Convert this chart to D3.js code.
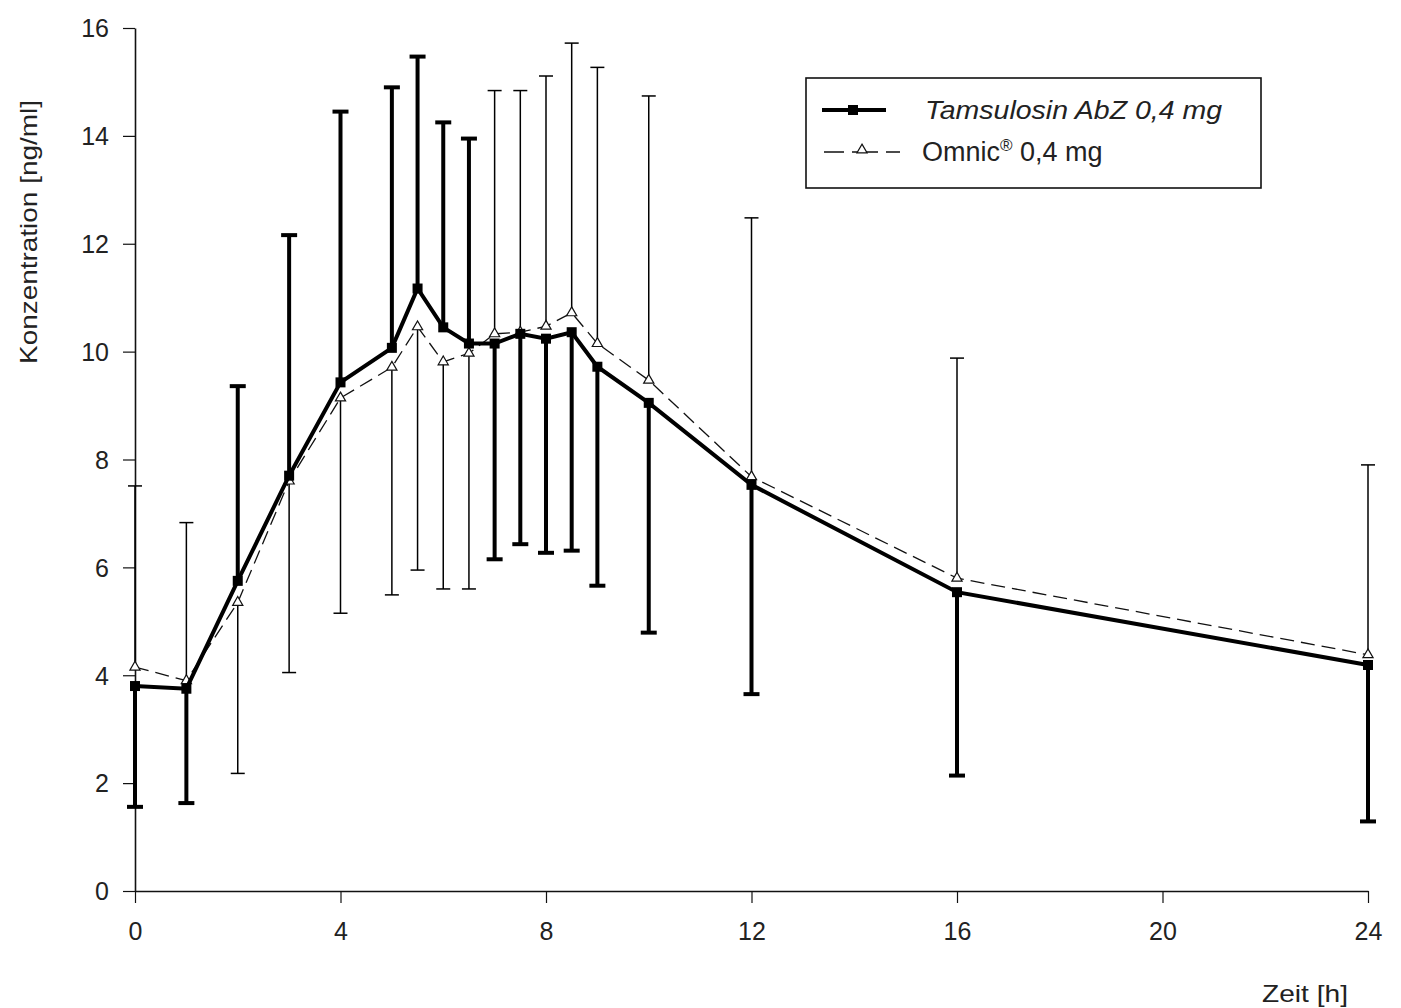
<!DOCTYPE html>
<html>
<head>
<meta charset="utf-8">
<script src="https://cdn.jsdelivr.net/npm/d3@7"></script>
<style>
  body { margin: 0; background: #fff; }
  svg text { font-family: "Liberation Sans", Arial, sans-serif; fill: #222; }
</style>
</head>
<body>
<div id="chart"></div>
<script>
// time points [h]
const times = [0, 1, 2, 3, 4, 5, 5.5, 6, 6.5, 7, 7.5, 8, 8.5, 9, 10, 12, 16, 24];

// Tamsulosin AbZ 0,4 mg: means and end of the error bar
const tamsMean = [3.80, 3.75, 5.75, 7.70, 9.43, 10.07, 11.17, 10.45, 10.15, 10.15, 10.33, 10.24, 10.36, 9.72, 9.05, 7.53, 5.54, 4.19];
const tamsBar  = [1.56, 1.63, 9.36, 12.16, 14.45, 14.90, 15.47, 14.25, 13.95, 6.15, 6.43, 6.27, 6.31, 5.66, 4.79, 3.65, 2.14, 1.29];

// Omnic 0,4 mg: means and end of the error bar
const omnicMean = [4.15, 3.90, 5.35, 7.60, 9.14, 9.71, 10.46, 9.81, 9.97, 10.33, 10.36, 10.47, 10.72, 10.15, 9.47, 7.68, 5.80, 4.38];
const omnicBar  = [7.51, 6.83, 2.18, 4.05, 5.15, 5.49, 5.95, 5.60, 5.60, 14.84, 14.84, 15.11, 15.72, 15.27, 14.74, 12.48, 9.88, 7.90];

const xTicks = [0, 4, 8, 12, 16, 20, 24];
const yTicks = [0, 2, 4, 6, 8, 10, 12, 14, 16];

const width = 1401, height = 1008;
const svg = d3.select('#chart').append('svg')
    .attr('width', width)
    .attr('height', height);

const x = d3.scaleLinear().domain([0, 24]).range([135, 1368]);
const y = d3.scaleLinear().domain([0, 16]).range([891, 28]);

// axes
const xAxis = svg.append('g')
    .attr('transform', `translate(0, ${y(0)})`)
    .call(d3.axisBottom(x).tickValues(xTicks).tickSize(12).tickPadding(22).tickSizeOuter(0));
const yAxis = svg.append('g')
    .attr('transform', `translate(${x(0)}, 0)`)
    .call(d3.axisLeft(y).tickValues(yTicks).tickSize(12).tickPadding(14).tickSizeOuter(0));

[xAxis, yAxis].forEach(a => {
    a.select('.domain').attr('stroke', '#111').attr('stroke-width', 1.6);
    a.selectAll('.tick line').attr('stroke', '#111').attr('stroke-width', 1.2);
    a.selectAll('.tick text')
        .style('font-family', '"Liberation Sans", Arial, sans-serif')
        .style('font-size', '25px')
        .attr('fill', '#222');
});
yAxis.selectAll('.tick text').attr('dy', '0.35em');
xAxis.selectAll('.tick text').attr('dy', '0.6em');

// axis titles
svg.append('text')
    .attr('transform', 'translate(37, 232) rotate(-90)')
    .attr('text-anchor', 'middle')
    .style('font-size', '24px')
    .attr('textLength', 264)
    .attr('lengthAdjust', 'spacingAndGlyphs')
    .text('Konzentration [ng/ml]');

svg.append('text')
    .attr('x', 1262)
    .attr('y', 1002)
    .style('font-size', '24px')
    .attr('textLength', 86)
    .attr('lengthAdjust', 'spacingAndGlyphs')
    .text('Zeit [h]');

function bars(means, ends, thick) {
    const g = svg.append('g');
    const data = times.map((t, i) => ({t, m: means[i], e: ends[i]}));
    g.selectAll('line.v').data(data).enter().append('line')
        .attr('x1', d => x(d.t)).attr('x2', d => x(d.t))
        .attr('y1', d => y(d.m)).attr('y2', d => y(d.e))
        .attr('stroke', '#000')
        .attr('stroke-width', thick ? 4 : 1.5);
    const cap = thick ? 8 : 7;
    g.selectAll('line.c').data(data).enter().append('line')
        .attr('x1', d => x(d.t) - cap).attr('x2', d => x(d.t) + cap)
        .attr('y1', d => y(d.e)).attr('y2', d => y(d.e))
        .attr('stroke', '#000')
        .attr('stroke-width', thick ? 4 : 1.5);
}

bars(omnicMean, omnicBar, false);
bars(tamsMean, tamsBar, true);

const line = d3.line().x(d => x(d[0])).y(d => y(d[1]));

// Omnic line (thin dashed, hollow triangles)
svg.append('path')
    .datum(times.map((t, i) => [t, omnicMean[i]]))
    .attr('d', line)
    .attr('fill', 'none')
    .attr('stroke', '#111')
    .attr('stroke-width', 1.3)
    .attr('stroke-dasharray', '14,7');

const tri = d3.symbol().type(d3.symbolTriangle).size(45);
svg.selectAll('path.omnic').data(times.map((t, i) => [t, omnicMean[i]]))
    .enter().append('path')
    .attr('transform', d => `translate(${x(d[0])}, ${y(d[1])})`)
    .attr('d', tri)
    .attr('fill', '#fff')
    .attr('stroke', '#111')
    .attr('stroke-width', 1.2);

// Tamsulosin line (thick solid, filled squares)
svg.append('path')
    .datum(times.map((t, i) => [t, tamsMean[i]]))
    .attr('d', line)
    .attr('fill', 'none')
    .attr('stroke', '#000')
    .attr('stroke-width', 4);

svg.selectAll('rect.tams').data(times.map((t, i) => [t, tamsMean[i]]))
    .enter().append('rect')
    .attr('x', d => x(d[0]) - 5)
    .attr('y', d => y(d[1]) - 5)
    .attr('width', 10)
    .attr('height', 10)
    .attr('fill', '#000');

// legend
const legend = svg.append('g');
legend.append('rect')
    .attr('x', 806).attr('y', 78)
    .attr('width', 455).attr('height', 110)
    .attr('fill', '#fff')
    .attr('stroke', '#111')
    .attr('stroke-width', 1.6);

legend.append('line')
    .attr('x1', 822).attr('x2', 886).attr('y1', 110).attr('y2', 110)
    .attr('stroke', '#000').attr('stroke-width', 4);
legend.append('rect')
    .attr('x', 848).attr('y', 105).attr('width', 10).attr('height', 10)
    .attr('fill', '#000');
legend.append('text')
    .attr('x', 925).attr('y', 119)
    .style('font-size', '26px')
    .style('font-style', 'italic')
    .attr('textLength', 297)
    .attr('lengthAdjust', 'spacingAndGlyphs')
    .text('Tamsulosin AbZ 0,4 mg');

// dashed sample: "— -△- —"
legend.append('line')
    .attr('x1', 824).attr('x2', 900).attr('y1', 152).attr('y2', 152)
    .attr('stroke', '#111').attr('stroke-width', 1.3)
    .attr('stroke-dasharray', '20,8,26,8,20');
legend.append('path')
    .attr('transform', 'translate(862, 150)')
    .attr('d', tri)
    .attr('fill', '#fff')
    .attr('stroke', '#111')
    .attr('stroke-width', 1.2);
const t2 = legend.append('text')
    .attr('x', 922).attr('y', 161)
    .style('font-size', '27px');
t2.append('tspan').text('Omnic');
t2.append('tspan').attr('dy', -10).style('font-size', '17px').text('®');
t2.append('tspan').attr('dy', 10).text(' 0,4 mg');
</script>
</body>
</html>
